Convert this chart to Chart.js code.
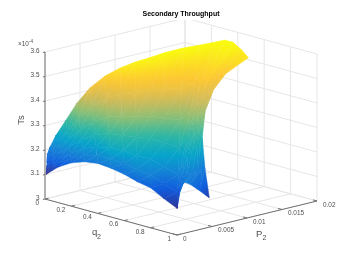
<!DOCTYPE html>
<html>
<head>
<meta charset="utf-8">
<style>html,body{margin:0;padding:0;background:#fff}canvas{display:block}</style>
<script src="https://cdn.jsdelivr.net/npm/chart.js@4"></script>
</head>
<body>
<canvas id="surf" width="350" height="263"></canvas>
<script>
// axes
const qTicks = [0, 0.2, 0.4, 0.6, 0.8, 1];
const qTickLabels = ["0", "0.2", "0.4", "0.6", "0.8", "1"];
const pTicks = [0, 0.005, 0.01, 0.015, 0.02];
const pTickLabels = ["0", "0.005", "0.01", "0.015", "0.02"];
const tsTicks = [3, 3.1, 3.2, 3.3, 3.4, 3.5, 3.6];
const tsTickLabels = ["3", "3.1", "3.2", "3.3", "3.4", "3.5", "3.6"];

// surface samples, one line per strip (Ts in units of 1e-4)
const q2Grid = [
  [.01, .011, .012, .014, .016, .018, .018],
  [.05, .049, .047, .046, .043, .041, .038],
  [.1, .095, .095, .093, .09, .087, .083],
  [.2, .18, .183, .178, .18, .149, .117],
  [.3, .269, .276, .263, .257, .226, .165],
  [.4, .364, .357, .338, .307, .275, .234],
  [.5, .493, .49, .447, .391, .341, .225],
  [.6, .56, .581, .523, .465, .377, .242],
  [.7, .696, .663, .574, .517, .438, .256],
  [.8, .789, .72, .625, .557, .466, .262],
  [.9, .805, .792, .692, .603, .515, .256],
  [1, .909, .872, .775, .67, .561, .254],
  [1, .882, .843, .752, .689, .565, .27],
  [1, .904, .83, .744, .697, .582, .282],
  [1, .909, .825, .752, .694, .598, .3],
  [1, .879, .817, .728, .692, .583, .364],
  [1, .854, .794, .741, .687, .583, .43],
  [1, .832, .783, .738, .679, .582, .548]
];
const p2Grid = [
  [0, 0, 0, 0, 0, 0, .00006],
  [0, 0, 0, 0, 0, 0, 0],
  [0, .00006, .00002, 0, 0, 0, .00002],
  [0, .0003, .00014, .00012, 0, .00038, .0008],
  [0, .00048, .0002, .00028, .0002, .00058, .00146],
  [0, .00056, .00056, .00074, .00114, .00154, .00202],
  [0, .00004, .00002, .00068, .0016, .00236, .00434],
  [0, .0007, .00024, .00122, .00222, .00376, .00616],
  [0, .00004, .00062, .00226, .00326, .00468, .00804],
  [0, .0002, .0015, .00328, .00454, .00622, .01006],
  [0, .0018, .00208, .004, .00568, .00738, .01232],
  [0, .0018, .0026, .00458, .0067, .00892, .01492],
  [.00042, .00294, .00402, .00618, .00786, .01078, .01704],
  [.00076, .00318, .00476, .00684, .00836, .01132, .01924],
  [.00114, .00392, .00552, .0073, .00918, .01208, .02],
  [.00186, .0053, .0063, .00838, .01002, .01344, .02],
  [.00328, .00634, .0072, .00858, .01066, .01422, .02],
  [.00462, .00716, .0077, .00894, .0112, .01474, .0187]
];
const tsGrid = [
  [3.102, 3.111, 3.122, 3.136, 3.151, 3.17, 3.19],
  [3.122, 3.132, 3.143, 3.159, 3.175, 3.194, 3.218],
  [3.145, 3.159, 3.174, 3.195, 3.216, 3.242, 3.273],
  [3.177, 3.19, 3.212, 3.24, 3.271, 3.298, 3.334],
  [3.196, 3.212, 3.244, 3.28, 3.32, 3.361, 3.406],
  [3.204, 3.226, 3.262, 3.307, 3.352, 3.406, 3.474],
  [3.199, 3.235, 3.28, 3.3295, 3.3835, 3.444, 3.505],
  [3.189, 3.222, 3.282, 3.328, 3.39, 3.459, 3.528],
  [3.173, 3.222, 3.27, 3.322, 3.389, 3.4645, 3.541],
  [3.163, 3.212, 3.259, 3.3156, 3.388, 3.469, 3.546],
  [3.134, 3.168, 3.235, 3.3034, 3.381, 3.471, 3.55],
  [3.109, 3.15, 3.21, 3.292, 3.3745, 3.4735, 3.55],
  [3.174, 3.199, 3.259, 3.322, 3.407, 3.487, 3.55],
  [3.202, 3.208, 3.27, 3.335, 3.4195, 3.492, 3.55],
  [3.207, 3.212, 3.283, 3.357, 3.435, 3.496, 3.554],
  [3.194, 3.208, 3.296, 3.377, 3.449, 3.492, 3.554],
  [3.157, 3.204, 3.305, 3.3925, 3.46, 3.492, 3.533],
  [3.119, 3.199, 3.3115, 3.403, 3.4645, 3.492, 3.528]
];

// fixed view of the box, like view(3) in matlab
function project(q, p, ts) {
  return {
    x: 45 + 132 * q + 140 * (p / 0.02),
    y: 199 + 36 * q - 34 * (p / 0.02) - 245 * (ts - 3)
  };
}

const parula = ["#352a87", "#0f5cdd", "#1481d6", "#06a4ca", "#2eb7a4", "#87bf77", "#d1bb59", "#fec832", "#f9fb0e"]
  .map(h => [1, 3, 5].map(i => parseInt(h.slice(i, i + 2), 16)));
const clim = [3.1, 3.55];

function colorOf(ts) {
  let t = (ts - clim[0]) / (clim[1] - clim[0]);
  t = Math.min(1, Math.max(0, t)) * (parula.length - 1);
  const i = Math.min(parula.length - 2, Math.floor(t));
  const f = t - i;
  const c = parula[i].map((v, k) => Math.round(v + (parula[i + 1][k] - v) * f));
  return `rgb(${c[0]},${c[1]},${c[2]})`;
}

// linear shading over one triangle, goes along the direction Ts changes fastest
function triShade(ctx, corners) {
  const chart = ctx.chart;
  const flat = colorOf((corners[0].ts + corners[1].ts + corners[2].ts) / 3);
  if (!chart.chartArea) return flat;
  const pts = corners.map(c => ({
    x: chart.scales.x.getPixelForValue(c.x),
    y: chart.scales.y.getPixelForValue(c.y),
    ts: c.ts
  }));
  const [a, b, c] = pts;
  const d = (b.x - a.x) * (c.y - a.y) - (c.x - a.x) * (b.y - a.y);
  if (Math.abs(d) < 1e-6) return flat;
  const gx = ((b.ts - a.ts) * (c.y - a.y) - (c.ts - a.ts) * (b.y - a.y)) / d;
  const gy = ((b.x - a.x) * (c.ts - a.ts) - (c.x - a.x) * (b.ts - a.ts)) / d;
  const g2 = gx * gx + gy * gy;
  if (g2 < 1e-12) return flat;
  const lo = Math.min(a.ts, b.ts, c.ts);
  const hi = Math.max(a.ts, b.ts, c.ts);
  const grad = chart.ctx.createLinearGradient(
    a.x + (lo - a.ts) * gx / g2, a.y + (lo - a.ts) * gy / g2,
    a.x + (hi - a.ts) * gx / g2, a.y + (hi - a.ts) * gy / g2
  );
  for (let s = 0; s <= 4; s++) grad.addColorStop(s / 4, colorOf(lo + (hi - lo) * s / 4));
  return grad;
}

const datasets = [];

function addLine(from, to, color, order) {
  datasets.push({
    data: [project(...from), project(...to)],
    showLine: true, pointRadius: 0, borderColor: color, borderWidth: 1, order: order
  });
}

function addTriangle(i1, j1, i2, j2, i3, j3) {
  const corners = [[i1, j1], [i2, j2], [i3, j3]].map(([i, j]) => ({
    ...project(q2Grid[i][j], p2Grid[i][j], tsGrid[i][j]),
    ts: tsGrid[i][j]
  }));
  const shade = ctx => triShade(ctx, corners);
  datasets.push({
    data: [corners[0], corners[1], corners[2], corners[0]],
    showLine: true, pointRadius: 0, tension: 0,
    fill: "shape", backgroundColor: shade, borderColor: shade, borderWidth: 0.5,
    order: 2
  });
}

const tsLo = tsTicks[0], tsHi = tsTicks[tsTicks.length - 1];
const pHi = pTicks[pTicks.length - 1];
const gridColor = "#e6e6e6", axisColor = "#707070";

// walls and floor
qTicks.forEach(q => {
  addLine([q, 0, tsLo], [q, pHi, tsLo], gridColor, 3);
  addLine([q, pHi, tsLo], [q, pHi, tsHi], gridColor, 3);
});
pTicks.forEach(p => {
  addLine([0, p, tsLo], [1, p, tsLo], gridColor, 3);
  addLine([0, p, tsLo], [0, p, tsHi], gridColor, 3);
});
tsTicks.forEach(t => {
  addLine([0, 0, t], [0, pHi, t], gridColor, 3);
  addLine([0, pHi, t], [1, pHi, t], gridColor, 3);
});

// surface
for (let i = 0; i < q2Grid.length - 1; i++) {
  for (let j = 0; j < q2Grid[i].length - 1; j++) {
    addTriangle(i, j, i + 1, j, i + 1, j + 1);
    addTriangle(i, j, i + 1, j + 1, i, j + 1);
  }
}

// axis lines and tick marks
addLine([0, 0, tsLo], [1, 0, tsLo], axisColor, 1);
addLine([1, 0, tsLo], [1, pHi, tsLo], axisColor, 1);
addLine([0, 0, tsLo], [0, 0, tsHi], axisColor, 1);
qTicks.forEach(q => addLine([q, 0, tsLo], [q, 0.0005, tsLo], axisColor, 1));
pTicks.forEach(p => addLine([1, p, tsLo], [0.97, p, tsLo], axisColor, 1));
tsTicks.forEach(t => addLine([0, -0.0003, t], [0, 0, t], axisColor, 1));

const tickFont = '6.4px "Liberation Sans"';
const labelFont = '9.5px "Liberation Sans"';
const subFont = '7px "Liberation Sans"';
const textColor = "#4d4d4d";

const textPlugin = {
  id: "axisText",
  afterDraw(chart) {
    const c = chart.ctx;
    const put = (text, pos, dx, dy, align, font, angle) => {
      c.save();
      c.translate(chart.scales.x.getPixelForValue(pos.x) + dx, chart.scales.y.getPixelForValue(pos.y) + dy);
      if (angle) c.rotate(angle);
      c.font = font;
      c.fillStyle = textColor;
      c.textAlign = align;
      c.textBaseline = "middle";
      c.fillText(text, 0, 0);
      c.restore();
    };
    qTicks.forEach((q, i) => put(qTickLabels[i], project(q, 0, tsLo), -6, 4, "right", tickFont));
    pTicks.forEach((p, i) => put(pTickLabels[i], project(1, p, tsLo), 6, 4, "left", tickFont));
    tsTicks.forEach((t, i) => put(tsTickLabels[i], project(0, 0, t), -5.5, -1.2, "right", tickFont));
    put("×10", { x: 18, y: 44 }, 0, 0, "left", tickFont);
    put("-4", { x: 29, y: 42 }, 0, 0, "left", '4.6px "Liberation Sans"');
    put("Ts", { x: 21, y: 120 }, 0, 0, "center", labelFont, -Math.PI / 2);
    put("q", { x: 92, y: 232 }, 0, 0, "left", labelFont);
    put("2", { x: 97, y: 237 }, 0, 0, "left", subFont);
    put("P", { x: 256, y: 234 }, 0, 0, "left", labelFont);
    put("2", { x: 262.5, y: 238 }, 0, 0, "left", subFont);
  }
};

new Chart(document.getElementById("surf").getContext("2d"), {
  type: "scatter",
  data: { datasets: datasets },
  options: {
    responsive: false,
    animation: false,
    events: [],
    layout: { padding: { left: 12 } },
    scales: {
      x: { display: false, min: 12, max: 350 },
      y: { display: false, min: 20, max: 263, reverse: true }
    },
    plugins: {
      legend: { display: false },
      tooltip: { enabled: false },
      title: {
        display: true,
        text: "Secondary Throughput",
        color: "#000",
        font: { family: "Liberation Sans", size: 7, weight: "bold", lineHeight: 1 },
        padding: { top: 10.5, bottom: 2.5 }
      }
    }
  },
  plugins: [textPlugin]
});
</script>
</body>
</html>
